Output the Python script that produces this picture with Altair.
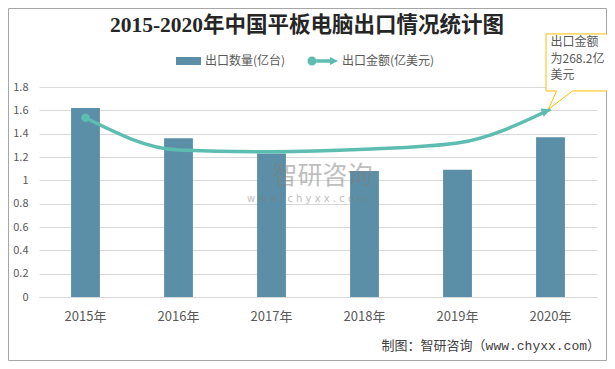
import altair as alt
import pandas as pd

# ---------------- data ----------------
years = ["2015年", "2016年", "2017年", "2018年", "2019年", "2020年"]
export_qty = [1.62, 1.36, 1.23, 1.08, 1.09, 1.37]          # 出口数量(亿台)
export_amt = [256.0, 210.0, 207.5, 211.0, 220.0, 268.2]    # 出口金额(亿美元)
qty_label = "出口数量(亿台)"
amt_label = "出口金额(亿美元)"
y_ticks = [0, 0.2, 0.4, 0.6, 0.8, 1.0, 1.2, 1.4, 1.6, 1.8]
title_text = "2015-2020年中国平板电脑出口情况统计图"
source_text = "制图：智研咨询（www.chyxx.com）"
callout_text = "出口金额\n为268.2亿\n美元"
wm_name = "智研咨询"
wm_url = "w w w . c h y x x . c o m"

BAR = "#5A8FA7"
TEAL = "#5CBDB0"
GRID = "#D9D9D9"
LABEL = "#595959"
CJK = "Noto Sans CJK SC"

df = pd.DataFrame({"year": years, "qty": export_qty, "amt": export_amt,
                   "qs": qty_label, "as": amt_label})

base = alt.Chart(df)

x_enc = alt.X("year:N", sort=years,
              scale=alt.Scale(paddingInner=0.69, paddingOuter=0.345),
              axis=alt.Axis(title=None, labelAngle=0, ticks=False, tickSize=0,
                            domain=True, domainColor=GRID, grid=False,
                            labelPadding=13, labelFontSize=13, labelColor=LABEL,
                            labelFont=CJK))

bars = base.mark_bar().encode(
    x=x_enc,
    y=alt.Y("qty:Q", scale=alt.Scale(domain=[0, 1.8], nice=False),
            axis=alt.Axis(values=y_ticks, format="~g", title=None, ticks=False,
                          tickSize=0, domain=False, grid=True, gridColor=GRID,
                          labelPadding=11, labelFontSize=11, labelColor=LABEL,
                          labelFont=CJK)),
    fill=alt.Fill("qs:N", scale=alt.Scale(domain=[qty_label], range=[BAR]),
                  legend=alt.Legend(orient="none", legendX=137, legendY=-38.5,
                                    title=None, padding=0,
                                    symbolType="M-1,-0.32L1,-0.32L1,0.32L-1,0.32Z",
                                    symbolSize=625, symbolStrokeWidth=0,
                                    labelFontSize=12, labelColor=LABEL,
                                    labelFont=CJK, labelOffset=4)),
)

y_amt = alt.Y("amt:Q", scale=alt.Scale(domain=[0, 300], nice=False), axis=None)

line = base.mark_line(color=TEAL, strokeWidth=3.5, interpolate="monotone").encode(
    x=x_enc, y=y_amt)

legend_line_path = ("M-0.849,0A0.273,0.273 0 1,0 -0.303,0A0.273,0.273 0 1,0 -0.849,0Z"
                    "M-0.31,-0.106L0.52,-0.106L0.52,-0.24L1,0L0.52,0.24L0.52,0.106L-0.31,0.106Z")

start = base.transform_filter(alt.datum.year == years[0]).mark_point(
    filled=True, shape="circle", size=70, opacity=1).encode(
    x=x_enc, y=y_amt,
    color=alt.Color("as:N", scale=alt.Scale(domain=[amt_label], range=[TEAL]),
                    legend=alt.Legend(orient="none", legendX=266, legendY=-42.5,
                                      title=None, padding=0,
                                      symbolType=legend_line_path,
                                      symbolSize=1089, symbolStrokeWidth=0,
                                      labelFontSize=12, labelColor=LABEL,
                                      labelFont=CJK, labelOffset=4)),
)

last = base.transform_filter(alt.datum.year == years[-1])

callout_box = last.mark_point(
    shape="M-4.5,-75.3L57.5,-75.3L57.5,-18.3L22,-18.3L-2,0L6,-18.3L-4.5,-18.3Z",
    size=4, filled=True, fill="white", stroke="#FFC000", strokeWidth=1,
    opacity=1, fillOpacity=1, strokeOpacity=1).encode(x=x_enc, y=y_amt)

arrow = last.mark_point(shape="M0,0L-9,-4.5L-9,4.5Z", size=4, filled=True,
                        color=TEAL, opacity=1, angle=338).encode(x=x_enc, y=y_amt)

callout_label = last.mark_text(align="left", baseline="top", dx=0, dy=-72,
                               lineBreak="\n", lineHeight=16.3, fontSize=12,
                               color=LABEL, font=CJK).encode(
    x=x_enc, y=y_amt, text=alt.value(callout_text))

amt_layer = alt.layer(line, callout_box, arrow, start, callout_label)

one = pd.DataFrame({"k": [0]})

title = alt.Chart(one).mark_text(
    text=title_text, font="Liberation Serif, " + CJK, fontSize=21.5,
    fontWeight="bold", color="#262626", align="center", baseline="middle"
).encode(x=alt.value(268), y=alt.value(-61))

wm1 = alt.Chart(one).mark_text(
    text=wm_name, font=CJK, fontSize=25, color="#7F7F7F", opacity=0.5,
    align="center", baseline="middle").encode(x=alt.value(283.5), y=alt.value(89))
wm2 = alt.Chart(one).mark_text(
    text=wm_url, font="DejaVu Sans", fontSize=10, color="#7F7F7F", opacity=0.5,
    align="center", baseline="middle").encode(x=alt.value(268), y=alt.value(112))

note = alt.Chart(one).mark_text(
    text=source_text, font="Liberation Mono, " + CJK, fontSize=13, color="#404040",
    align="right", baseline="middle").encode(x=alt.value(561), y=alt.value(259))

frame = alt.Chart(one).mark_rect(fill="transparent", stroke="#A6A6A6", strokeWidth=1).encode(
    x=alt.value(-30.5), x2=alt.value(567.5), y=alt.value(-78.5), y2=alt.value(273.5))

chart = alt.layer(frame, bars, amt_layer, wm1, wm2, title, note).resolve_scale(
    y="independent"
).properties(
    width=558, height=210,
    autosize=alt.AutoSizeParams(type="none"),
    padding={"left": 31, "top": 79, "right": 10, "bottom": 64},
    background="white",
).configure_view(stroke="transparent")

chart.save("out.html", embed_options={"renderer": "svg", "actions": False})
